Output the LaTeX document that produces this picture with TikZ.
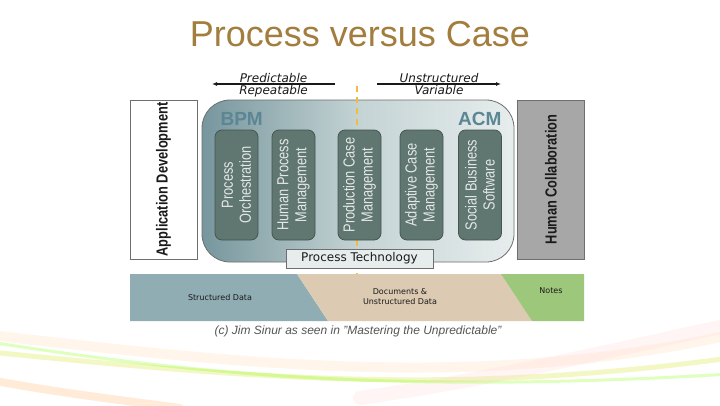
\documentclass[tikz,border=0pt]{standalone}
\usepackage{fontspec}
\setmainfont{Liberation Sans}
\newfontfamily\dejavu{DejaVu Sans}
\newfontfamily\narrow[FakeStretch=0.8]{Liberation Sans}
\usetikzlibrary{arrows.meta,positioning,calc}
\definecolor{titlegold}{HTML}{A27D3D}
\definecolor{panelleft}{HTML}{76969D}
\definecolor{panelmid}{HTML}{C4D3D4}
\definecolor{panelright}{HTML}{E7EDED}
\definecolor{colfill}{HTML}{5F7671}
\definecolor{colline}{HTML}{45564F}
\definecolor{coltext}{HTML}{E4E8E6}
\definecolor{acmblue}{HTML}{5B8693}
\definecolor{dashyel}{HTML}{F4BC3C}
\definecolor{sidegray}{HTML}{A7A7A7}
\definecolor{sideline}{HTML}{6E6E6E}
\definecolor{datateal}{HTML}{8FADB2}
\definecolor{datatan}{HTML}{DCCAB2}
\definecolor{datagreen}{HTML}{9DC77A}
\definecolor{capgray}{HTML}{555555}
\definecolor{ink}{HTML}{1A1A1A}
\tikzset{
  col/.style={rectangle,rounded corners=7pt,draw=colline,fill=colfill,line width=0.8pt,rotate=90,
              minimum width=110pt,minimum height=43pt,inner sep=0pt,align=center,text=coltext,
              font=\narrow\fontsize{16}{18}\selectfont},
  side/.style={rectangle,draw=sideline,line width=0.8pt,rotate=90,minimum width=159pt,
               minimum height=67pt,inner sep=0pt,text=ink,font=\narrow\bfseries\fontsize{16}{18}\selectfont},
  panel/.style={rectangle,rounded corners=28pt,draw=sideline,line width=0.8pt,
                left color=panelleft,right color=panelright,middle color=panelmid,
                minimum width=312pt,minimum height=162pt},
  tag/.style={font=\bfseries\fontsize{19}{20}\selectfont,text=acmblue},
  techbox/.style={rectangle,draw=sideline,fill=panelright,line width=0.8pt,minimum width=147pt,
                  minimum height=19pt,inner sep=0pt,font=\dejavu\fontsize{12}{13}\selectfont,text=ink},
  toparr/.style={-{Latex[length=5pt,width=4pt]},line width=1.3pt,draw=ink},
  arrlbl/.style={font=\dejavu\itshape\fontsize{12}{13}\selectfont,text=ink,inner sep=1pt},
  datalbl/.style={font=\dejavu\fontsize{8}{9.5}\selectfont,text=ink,align=center},
  dashln/.style={draw=dashyel,line width=2.8pt,dash pattern=on 6pt off 5pt},
  swoosh/.style={line cap=round,opacity=0.25},
}
\begin{document}
\begin{tikzpicture}[x=1pt,y=-1pt]
\useasboundingbox (0,0) rectangle (720,405);
\fill[white] (0,0) rectangle (720,405);
% background swooshes
\draw[swoosh,line width=10pt,draw=orange!30] (-10,335) .. controls (250,365) and (480,390) .. (730,335);
\draw[swoosh,line width=5pt,draw=yellow!80!green] (-10,352) .. controls (250,378) and (450,396) .. (730,358);
\draw[swoosh,line width=14pt,draw=red!15] (360,398) .. controls (500,378) and (620,348) .. (730,325);
\draw[swoosh,line width=8pt,draw=orange!60] (-10,380) .. controls (60,393) and (120,400) .. (180,408);
\draw[swoosh,line width=3pt,draw=green!50!yellow] (-10,342) .. controls (200,375) and (400,394) .. (730,374);
% title
\node[font=\fontsize{36}{40}\selectfont,text=titlegold] (title) at (360,34) {Process versus Case};
% top arrows
\coordinate (pl1) at (335,84); \coordinate (pl2) at (212,84);
\coordinate (pr1) at (377,84); \coordinate (pr2) at (501,84);
\draw[toparr](pl1) -- node[arrlbl,above]{Predictable} node[arrlbl,below]{Repeatable} (pl2);
\draw[toparr](pr1) -- node[arrlbl,above]{Unstructured} node[arrlbl,below]{Variable} (pr2);
% side boxes
\node[side,fill=white] (appdev) at (163.5,179.5) {Application Development};
\node[side,fill=sidegray] (humcol) at (551,179.5) {Human Collaboration};
% main panel
\node[panel] (pnl) at (358,181) {};
\node[tag,anchor=west] (bpm) at (217,119) {BPM};
\node[tag,anchor=east] (acm) at (505,119) {ACM};
\coordinate (dtop) at (357,86); \coordinate (dbot) at (357,274);
\draw[dashln](dtop) -- (dbot);
\node[col] (c1) at (236.5,185) {Process\\Orchestration};
\node[col] (c2) at (293.5,185) {Human Process\\Management};
\node[col] (c3) at (359.5,185) {Production Case\\Management};
\node[col] (c4) at (421.5,185) {Adaptive Case\\Management};
\node[col] (c5) at (480,185) {Social Business\\Software};
\node[techbox] (tech) at (359.5,258.5) {Process Technology};
% data band
\fill[datateal] (130,274) -- (297,274) -- (328,321) -- (130,321) -- cycle;
\fill[datatan] (297,274) -- (501,274) -- (532,321) -- (328,321) -- cycle;
\fill[datagreen] (501,274) -- (584,274) -- (584,321) -- (532,321) -- cycle;
\node[datalbl] (sdata) at (220,297.5) {Structured Data};
\node[datalbl] (udata) at (400,296.5) {Documents \&\\Unstructured Data};
\node[datalbl] (notes) at (551,291) {Notes};
% credit line
\node[font=\itshape\fontsize{12}{14}\selectfont,text=capgray] (credit) at (358,331)
  {(c) Jim Sinur as seen in "Mastering the Unpredictable"};
\end{tikzpicture}
\end{document}
